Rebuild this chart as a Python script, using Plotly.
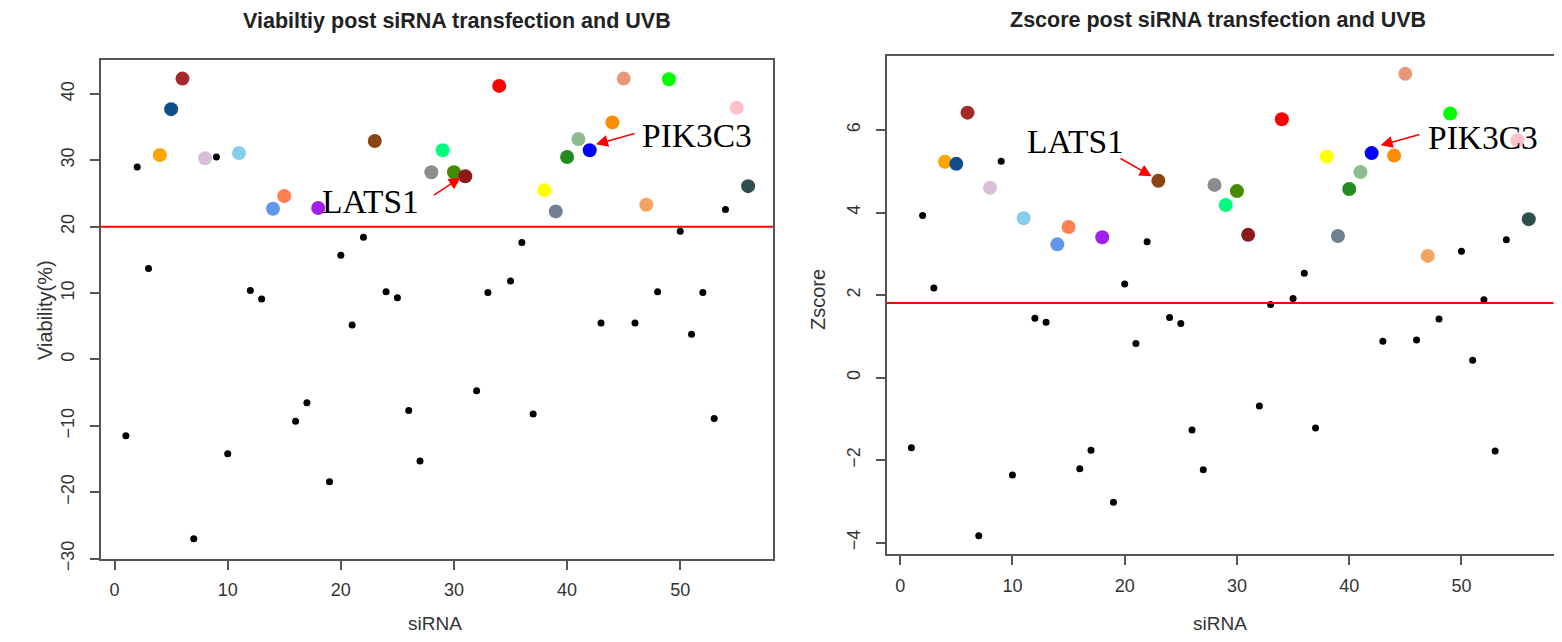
import plotly.graph_objects as go

# the page body has an 8px margin, so the figure starts at (8, 8) in the window;
# keep the figure inside the window so the page never overflows
OFF = 8
W, H = 1546, 626

# siRNA index along the x axis
sirna = [1, 2, 3, 4, 5, 6, 7, 8, 9, 10, 11, 12, 13, 14, 15, 16, 17, 18, 19, 20,
         21, 22, 23, 24, 25, 26, 27, 28, 29, 30, 31, 32, 33, 34, 35, 36, 37, 38, 39, 40,
         41, 42, 43, 44, 45, 46, 47, 48, 49, 50, 51, 52, 53, 54, 55, 56]

viability = [-11.5, 29.0, 13.7, 30.8, 37.7, 42.3, -27.0, 30.3, 30.5, -14.2,
             31.1, 10.4, 9.1, 22.7, 24.6, -9.3, -6.5, 22.8, -18.4, 15.7,
             5.2, 18.4, 32.9, 10.2, 9.3, -7.7, -15.3, 28.2, 31.5, 28.2,
             27.6, -4.7, 10.1, 41.2, 11.8, 17.6, -8.2, 25.5, 22.3, 30.5,
             33.2, 31.5, 5.5, 35.7, 42.3, 5.5, 23.3, 10.2, 42.2, 19.3,
             3.8, 10.1, -8.9, 22.6, 37.9, 26.1]

zscore = [-1.70, 3.93, 2.17, 5.23, 5.18, 6.42, -3.83, 4.60, 5.24, -2.36,
          3.86, 1.44, 1.34, 3.23, 3.65, -2.21, -1.76, 3.40, -3.02, 2.27,
          0.83, 3.29, 4.77, 1.46, 1.31, -1.27, -2.23, 4.67, 4.18, 4.52,
          3.46, -0.69, 1.77, 6.26, 1.92, 2.53, -1.22, 5.35, 3.43, 4.57,
          4.98, 5.44, 0.88, 5.38, 7.36, 0.91, 2.95, 1.42, 6.40, 3.06,
          0.42, 1.89, -1.78, 3.34, 5.75, 3.84]

# hits drawn in colour
hit_ids = [4, 5, 6, 8, 11, 14, 15, 18, 23, 28, 29, 30, 31, 34, 38, 39, 40, 41,
           42, 44, 45, 47, 49, 55, 56]
hit_colors = ["#FFA500", "#104E8B", "#A52A2A", "#D8BFD8", "#87CEEB", "#6495ED",
              "#FF7F50", "#A020F0", "#8B4513", "#8C8C8C", "#00FF7F", "#458B00",
              "#8B1A1A", "#FF0000", "#FFFF00", "#708090", "#228B22", "#8FBC8F",
              "#0000FF", "#FF8C00", "#E9967A", "#F4A460", "#00FF00", "#FFC0CB",
              "#2F4F4F"]

viab_cut = 20
z_cut = 1.81

SANS = "Liberation Sans, Arial, sans-serif"
SERIF = "Liberation Serif, Times New Roman, serif"


def fx(px):
    return min(1.0, (px - OFF) / W)


def fy(py):
    return 1 - (py - OFF) / H


fig = go.Figure()


def add_panel(vals, xa, ya):
    rest = [i for i in sirna if i not in hit_ids]
    fig.add_trace(go.Scatter(
        x=rest, y=[vals[i - 1] for i in rest], mode="markers",
        marker=dict(color="black", size=7), xaxis=xa, yaxis=ya))
    fig.add_trace(go.Scatter(
        x=hit_ids, y=[vals[i - 1] for i in hit_ids], mode="markers",
        marker=dict(color=hit_colors, size=14), xaxis=xa, yaxis=ya))


add_panel(viability, "x", "y")
add_panel(zscore, "x2", "y2")

fig.add_shape(type="line", xref="x domain", yref="y", x0=0, x1=1, y0=viab_cut, y1=viab_cut,
              line=dict(color="red", width=2))
fig.add_shape(type="line", xref="x2 domain", yref="y2", x0=0, x1=1, y0=z_cut, y1=z_cut,
              line=dict(color="red", width=2))

axis_style = dict(showgrid=False, zeroline=False, showline=True, mirror=True,
                  linecolor="#555", linewidth=1.5, ticks="outside", ticklen=9,
                  tickwidth=1.5, tickcolor="#555", automargin=False,
                  tickfont=dict(family=SANS, size=18, color="#333"))

fig.update_layout(
    width=W, height=H, margin=dict(l=0, r=0, t=0, b=0, autoexpand=False),
    paper_bgcolor="white", plot_bgcolor="white", showlegend=False,
    xaxis=dict(domain=[fx(101), fx(773)], range=[-1.2, 58.2],
               tickvals=[0, 10, 20, 30, 40, 50], ticklabelstandoff=5, anchor="y", **axis_style),
    yaxis=dict(domain=[fy(559), fy(60)], range=[-30.05, 45.1],
               tickvals=[-30, -20, -10, 0, 10, 20, 30, 40], tickangle=-90,
               ticklabelstandoff=9, anchor="x", **axis_style),
    xaxis2=dict(domain=[fx(886.7), fx(1553.5)], range=[-1.2, 58.2],
                tickvals=[0, 10, 20, 30, 40, 50], ticklabelstandoff=5, anchor="y2", **axis_style),
    yaxis2=dict(domain=[fy(554.3), fy(55.7)], range=[-4.28, 7.8],
                tickvals=[-4, -2, 0, 2, 4, 6], tickangle=-90,
                ticklabelstandoff=9, anchor="x2", **axis_style),
)

# titles and axis labels
texts = [
    ("Viabiltiy post siRNA transfection and UVB", 457, 21, 0, 21.5, True),
    ("Zscore post siRNA transfection and UVB", 1218, 20, 0, 21.5, True),
    ("Viability(%)", 45, 310, -90, 20, False),
    ("Zscore", 818, 300, -90, 20, False),
    ("siRNA", 435, 623, 0, 19, False),
    ("siRNA", 1220, 623, 0, 19, False),
]
for t, x, y, ang, sz, bold in texts:
    fig.add_annotation(text="<b>%s</b>" % t if bold else t, x=fx(x), y=fy(y),
                       xref="paper", yref="paper", showarrow=False, textangle=ang,
                       xanchor="center", yanchor="middle",
                       font=dict(family=SANS, size=sz, color="#222" if bold else "#333"))

# gene labels with red arrows
labels = [
    ("LATS1", "x", "y", 22.65, 23.75, 30.6, 27.4, 28.1, 24.6),
    ("PIK3C3", "x", "y", 51.5, 33.7, 42.55, 32.4, 46.1, 34.1),
    ("LATS1", "x2", "y2", 15.6, 5.73, 22.4, 4.88, 19.5, 5.33),
    ("PIK3C3", "x2", "y2", 51.9, 5.82, 42.8, 5.63, 46.4, 5.90),
]
for name, xa, ya, tx, ty, hx, hy, sx, sy in labels:
    fig.add_annotation(text=name, x=tx, y=ty, xref=xa, yref=ya, showarrow=False,
                       font=dict(family=SERIF, size=33.5, color="black"))
    fig.add_annotation(text="", x=hx, y=hy, ax=sx, ay=sy, xref=xa, yref=ya,
                       axref=xa, ayref=ya, showarrow=True, arrowhead=2, arrowsize=1.6,
                       arrowwidth=1.5, arrowcolor="red", standoff=0)

fig.write_html("out.html")
